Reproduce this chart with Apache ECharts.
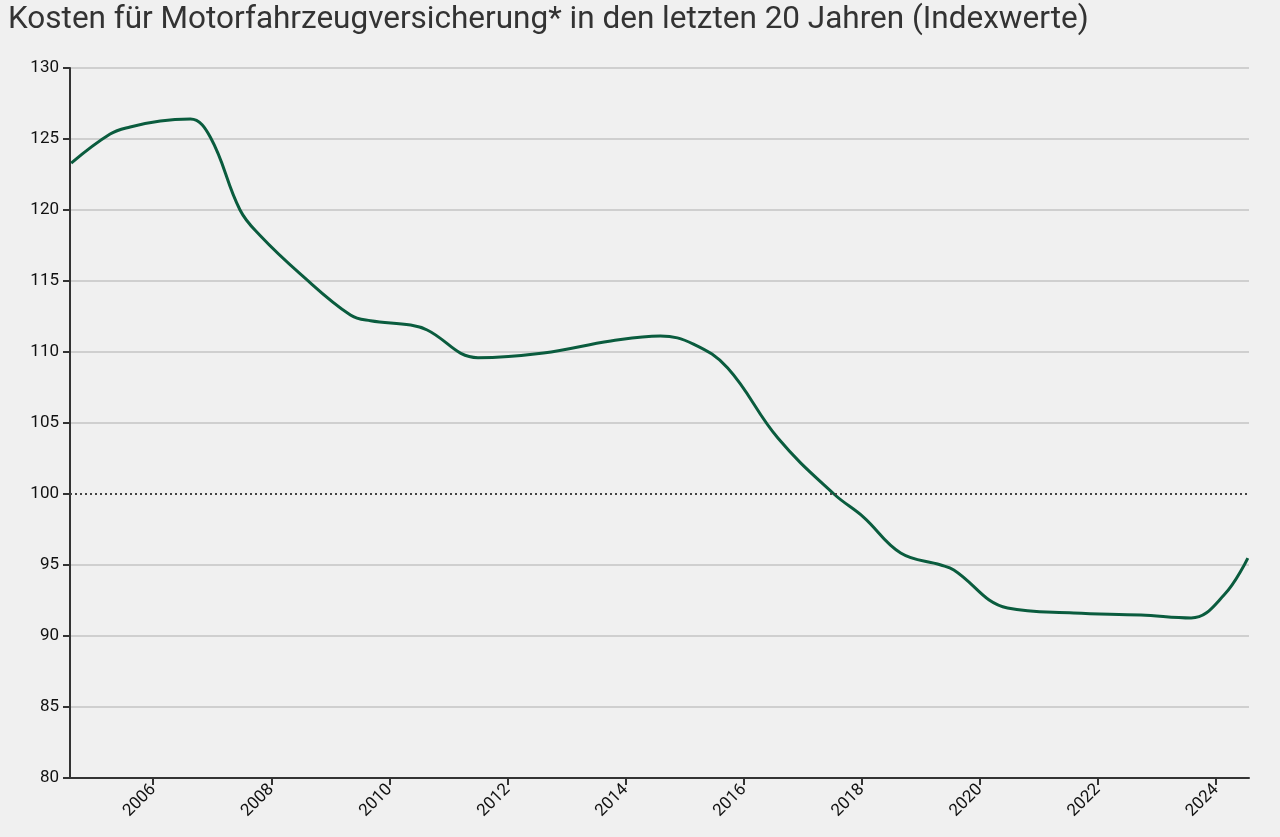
<!DOCTYPE html>
<html>
<head>
<meta charset="utf-8">
<script src="https://cdn.jsdelivr.net/npm/echarts@6/dist/echarts.min.js"></script>
<style>
  html, body { margin: 0; padding: 0; background: #f0f0f0; }
  #chart { width: 1280px; height: 837px; }
</style>
</head>
<body>
<div id="chart"></div>
<script>
  // years (decimal) and index values
  var years = [2004.61, 2005.27, 2005.61, 2006.12, 2006.63, 2006.97, 2007.47, 2007.81, 2008.49, 2009.34,
    2009.68, 2010.36, 2010.64, 2011.5, 2012.61, 2013.75, 2014.59, 2015.15, 2015.73, 2016.58,
    2017.53, 2018.03, 2018.66, 2019.34, 2019.56, 2020.47, 2021.59, 2022.73, 2023.58, 2024.14, 2024.54]
  var values = [123.3, 125.35, 125.85, 126.27, 126.4, 125.1, 120.0, 118.2, 115.5, 112.6,
    112.2, 111.9, 111.55, 109.6, 109.93, 110.77, 111.13, 110.56, 108.87, 103.94,
    100.0, 98.38, 95.85, 95.0, 94.65, 91.97, 91.62, 91.48, 91.27, 92.9, 95.49]
  var yearTicks = [2006, 2008, 2010, 2012, 2014, 2016, 2018, 2020, 2022, 2024]
  var titleText = 'Kosten für Motorfahrzeugversicherung* in den letzten 20 Jahren (Indexwerte)'

  var points = []
  for (var i = 0; i < years.length; i++) {
    points.push([years[i], values[i]])
  }

  var myChart = echarts.init(document.getElementById('chart'))
  myChart.setOption({
    backgroundColor: '#f0f0f0',
    animation: false,
    textStyle: { fontFamily: 'Roboto' },
    title: {
      text: titleText,
      left: 3,
      top: -1,
      textStyle: { fontSize: 31.5, fontWeight: 'normal', color: '#333', fontFamily: 'Roboto' }
    },
    grid: { left: 70, top: 68, right: 31, bottom: 59 },
    xAxis: {
      type: 'value',
      min: 2004.59,
      max: 2024.56,
      splitLine: { show: false },
      axisLine: { lineStyle: { color: '#333', width: 2 } },
      axisTick: { show: true, length: 7, customValues: yearTicks, lineStyle: { color: '#333', width: 2 } },
      axisLabel: {
        customValues: yearTicks,
        rotate: 45,
        margin: 9,
        fontSize: 17,
        color: '#111',
        formatter: function (v) { return String(v) }
      }
    },
    yAxis: {
      type: 'value',
      min: 80,
      max: 130,
      interval: 5,
      axisLine: { show: true, lineStyle: { color: '#333', width: 2 } },
      axisTick: { show: true, length: 7, lineStyle: { color: '#333', width: 2 } },
      axisLabel: { fontSize: 17, color: '#111', margin: 11 },
      splitLine: {
        lineStyle: {
          width: 2,
          color: ['#cfcfcf', '#cfcfcf', '#cfcfcf', '#cfcfcf', 'rgba(0,0,0,0)', '#cfcfcf',
            '#cfcfcf', '#cfcfcf', '#cfcfcf', '#cfcfcf', '#cfcfcf']
        }
      }
    },
    series: [
      {
        type: 'line',
        data: points,
        smooth: 0.4,
        showSymbol: false,
        lineStyle: { color: '#0a5c3e', width: 3 },
        markLine: {
          silent: true,
          symbol: 'none',
          label: { show: false },
          lineStyle: { type: [2, 3], color: '#444', width: 2 },
          data: [{ yAxis: 100 }]
        }
      }
    ]
  })
</script>
</body>
</html>
